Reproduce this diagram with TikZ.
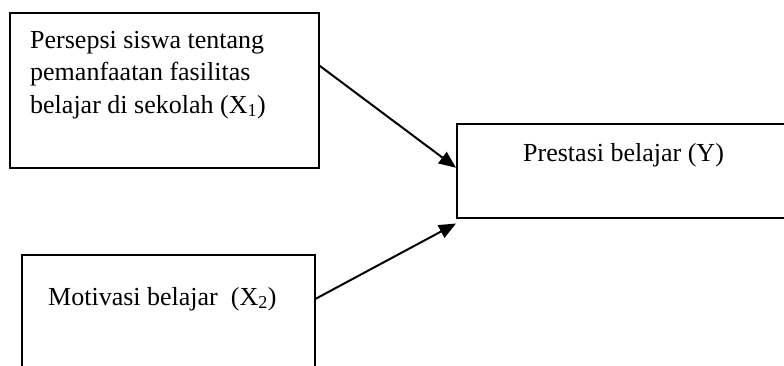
\documentclass[tikz,border=0pt]{standalone}
\usepackage{fontspec}
\setmainfont{Liberation Serif}
\usetikzlibrary{arrows.meta,calc}
\begin{document}
\begin{tikzpicture}[x=1pt,y=-1pt,
    kotak/.style={draw,line width=1.5pt,anchor=north west,inner sep=0pt},
    teks/.style={anchor=base west,inner sep=0pt,font=\fontsize{26}{32}\selectfont},
    panah/.style={line width=2pt,-{Triangle[length=17pt,width=14pt]}}]
    \useasboundingbox (0,0) rectangle (784,365);
    \clip (0,0) rectangle (784,365);
    % kotak variabel
    \node[kotak,minimum width=309pt,minimum height=155pt] (x1) at (9,12) {};
    \node[kotak,minimum width=332pt,minimum height=94pt] (y) at (456,123) {};
    \node[kotak,minimum width=293pt,minimum height=114pt] (x2) at (21,254) {};
    % teks
    \node[teks] (t1) at (30,48) {Persepsi siswa tentang};
    \node[teks] (t2) at (30,80.5) {pemanfaatan fasilitas};
    \node[teks] (t3) at (30,113) {belajar di sekolah (X\textsubscript{1})};
    \node[teks] (ty) at (523,161) {Prestasi belajar (Y)};
    \node[teks] (t4) at (48,305) {Motivasi belajar\ \ (X\textsubscript{2})};
    % panah
    \draw[panah] (x1.9) -- ($(y.west)+(0,-3)$);
    \draw[panah] (x2.5) -- ($(y.south west)+(0,5)$);
\end{tikzpicture}
\end{document}
